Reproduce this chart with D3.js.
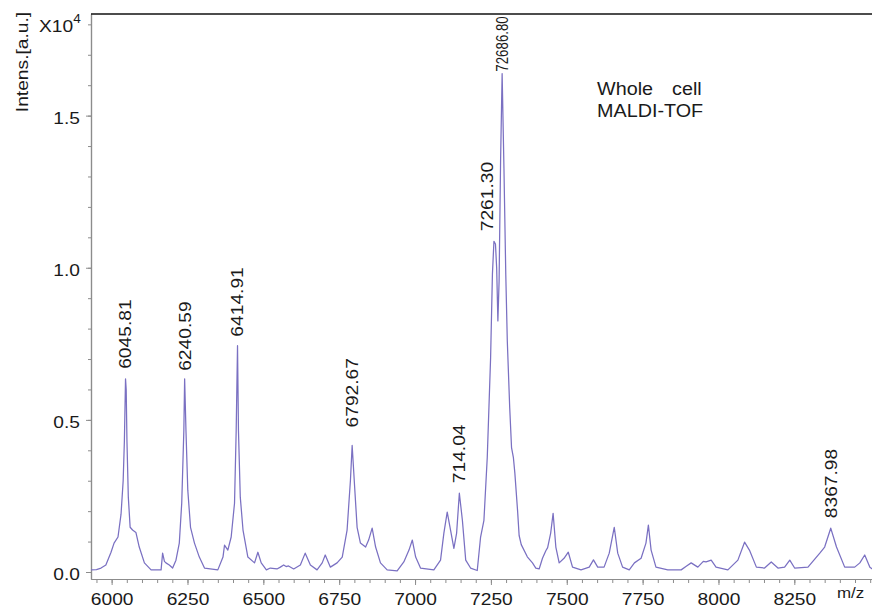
<!DOCTYPE html>
<html>
<head>
<meta charset="utf-8">
<script src="https://cdn.jsdelivr.net/npm/d3@7"></script>
<style>
  body { margin: 0; background: #fff; }
  text { font-family: "Liberation Sans", Arial, sans-serif; fill: #1a1a1a; }
</style>
</head>
<body>
<svg id="chart" width="872" height="611"></svg>
<script>
// spectrum: m/z and intensity (x10^4)
const mz = [
  5932, 5950, 5965, 5981, 5998, 6008, 6021, 6031, 6038, 6042, 6045.8, 6048, 6050.5, 6055, 6061, 6069, 6080, 6091, 6108, 6130,
  6163, 6168, 6174, 6179, 6190, 6201, 6212, 6223, 6231, 6238, 6240.6, 6245, 6251, 6260, 6273, 6289, 6306, 6350,
  6367, 6372, 6383, 6394, 6405, 6410.5, 6414.9, 6418, 6424, 6433, 6449, 6471, 6482, 6493, 6510, 6523, 6545, 6556, 6567, 6575,
  6583, 6600, 6622, 6638, 6655, 6677, 6694, 6704, 6721, 6743, 6760, 6776, 6787, 6792.7, 6801, 6809, 6820, 6837, 6847, 6858.6,
  6870, 6886, 6908, 6941, 6963, 6980, 6991, 7002, 7018, 7062, 7084, 7095, 7106, 7117, 7128, 7137, 7146, 7156, 7167, 7183,
  7205, 7216, 7227, 7238, 7249, 7255, 7260, 7265, 7269, 7273, 7277, 7282, 7287, 7293, 7299, 7304, 7312, 7318, 7324, 7329,
  7338, 7343, 7350, 7370, 7387, 7398, 7409, 7420, 7431, 7437, 7447, 7455, 7464, 7475, 7491, 7505, 7519, 7547, 7574, 7588,
  7602, 7623, 7640, 7656.5, 7668, 7684, 7706, 7723, 7745, 7761, 7769, 7778, 7794, 7833, 7877, 7895, 7910, 7932, 7950, 7959,
  7976, 7992, 8031, 8064, 8086, 8102, 8125, 8152, 8174, 8196, 8218, 8235, 8251, 8295, 8334, 8350, 8370, 8389, 8416, 8449,
  8466, 8482, 8499, 8511
];
const intensity = [
  0.007, 0.008, 0.013, 0.023, 0.065, 0.095, 0.115, 0.19, 0.30, 0.43, 0.635, 0.60, 0.43, 0.246, 0.147, 0.138, 0.13, 0.082, 0.03, 0.007,
  0.007, 0.062, 0.035, 0.03, 0.023, 0.013, 0.039, 0.095, 0.226, 0.465, 0.635, 0.465, 0.269, 0.147, 0.095, 0.049, 0.013, 0.007,
  0.049, 0.088, 0.072, 0.115, 0.226, 0.465, 0.744, 0.465, 0.246, 0.138, 0.049, 0.03, 0.065, 0.03, 0.007, 0.013, 0.01, 0.016, 0.023, 0.018,
  0.02, 0.01, 0.023, 0.062, 0.023, 0.007, 0.03, 0.056, 0.016, 0.03, 0.049, 0.138, 0.301, 0.416, 0.278, 0.147, 0.095, 0.082, 0.105, 0.144,
  0.082, 0.03, 0.007, 0.004, 0.033, 0.072, 0.105, 0.049, 0.013, 0.007, 0.039, 0.128, 0.197, 0.138, 0.078, 0.128, 0.259, 0.17, 0.039, 0.013,
  0.005, 0.115, 0.17, 0.377, 0.704, 0.979, 1.087, 1.078, 0.999, 0.825, 0.956, 1.359, 1.638, 1.327, 0.979, 0.76, 0.54, 0.409, 0.377, 0.324,
  0.2, 0.12, 0.09, 0.05, 0.03, 0.013, 0.01, 0.045, 0.07, 0.08, 0.128, 0.193, 0.082, 0.03, 0.045, 0.065, 0.016, 0.007, 0.016, 0.04,
  0.016, 0.016, 0.062, 0.147, 0.062, 0.016, 0.007, 0.03, 0.045, 0.095, 0.154, 0.072, 0.016, 0.007, 0.007, 0.02, 0.03, 0.016, 0.035, 0.033,
  0.039, 0.016, 0.007, 0.039, 0.098, 0.072, 0.016, 0.013, 0.033, 0.013, 0.016, 0.039, 0.013, 0.016, 0.062, 0.082, 0.144, 0.082, 0.016, 0.016,
  0.03, 0.056, 0.016, 0.007
];

// labelled peaks
const peakMz = [6045.8, 6240.6, 6414.9, 6792.7, 7146, 7260, 7287, 8370];
const peakText = ["6045.81", "6240.59", "6414.91", "6792.67", "714.04", "7261.30", "72686.80", "8367.98"];

const xMajor = d3.range(6000, 8251, 250);
const xMinor = d3.range(5950, 8501, 50);
const yMajor = [0, 0.5, 1.0, 1.5];
const yMinor = d3.range(0, 1.81, 0.1);

const svg = d3.select("#chart");
const stretch = "scale(1.13,1)";   // the original type is a little wide

const x = d3.scaleLinear().domain([5932, 8506]).range([91, 872]);
const y = d3.scaleLinear().domain([-0.023, 1.834]).range([579, 14]);

// axes
function styleAxis(g) {
  g.selectAll("path.domain").attr("stroke", "#8c8c8c").attr("stroke-width", 1.2);
  g.selectAll(".tick line").attr("stroke", "#8c8c8c").attr("stroke-width", 1);
}

svg.append("g")
  .attr("transform", "translate(0,579)")
  .call(d3.axisBottom(x).tickValues(xMinor).tickSize(4).tickSizeOuter(0).tickFormat(""))
  .call(styleAxis);

const xAxis = svg.append("g")
  .attr("transform", "translate(0,579)")
  .call(d3.axisBottom(x).tickValues(xMajor).tickSize(6).tickSizeOuter(0).tickFormat(d3.format("d")))
  .call(styleAxis);
xAxis.selectAll("text")
  .attr("y", 26).attr("dy", 0)
  .attr("transform", stretch)
  .style("font-size", "17px")
  .style("font-family", '"Liberation Sans", Arial, sans-serif')
  .attr("fill", "#1a1a1a");

svg.append("g")
  .attr("transform", "translate(91,0)")
  .call(d3.axisLeft(y).tickValues(yMinor).tickSize(3).tickSizeOuter(0).tickFormat(""))
  .call(styleAxis);

const yAxis = svg.append("g")
  .attr("transform", "translate(91,0)")
  .call(d3.axisLeft(y).tickValues(yMajor).tickSize(5).tickSizeOuter(0).tickFormat(d3.format(".1f")))
  .call(styleAxis);
yAxis.selectAll("text")
  .attr("x", -11 / 1.13).attr("dy", "0.45em")
  .attr("transform", stretch)
  .style("font-size", "17px")
  .style("font-family", '"Liberation Sans", Arial, sans-serif')
  .attr("fill", "#1a1a1a");

// top frame line
svg.append("line")
  .attr("x1", x.range()[0]).attr("x2", x.range()[1])
  .attr("y1", y.range()[1]).attr("y2", y.range()[1])
  .attr("stroke", "#111").attr("stroke-width", 1.3);

// spectrum
const points = mz.map((m, i) => [m, intensity[i]]);
svg.append("path")
  .datum(points)
  .attr("fill", "none")
  .attr("stroke", "#7a70c2")
  .attr("stroke-width", 1.25)
  .attr("stroke-linejoin", "round")
  .attr("d", d3.line().x(d => x(d[0])).y(d => y(d[1])));

// peak labels, rotated, sitting just above each peak
const nudge = [[0, -10], [0, -8], [0, -9], [0, -18], [0, -10], [-6.5, -10], [0, -2], [0, -10]];
peakMz.forEach((m, i) => {
  const idx = d3.minIndex(mz, v => Math.abs(v - m));
  const px = x(m) + nudge[i][0];
  const py = y(intensity[idx]) + nudge[i][1];
  const small = i === 6;
  svg.append("text")
    .attr("transform", `translate(${px},${py}) rotate(-90) ${small ? "scale(0.83,1)" : stretch}`)
    .attr("dy", "0.35em")
    .style("font-size", small ? "16px" : "17px")
    .text(peakText[i]);
});

// axis titles
svg.append("text")
  .attr("transform", `translate(28,62) rotate(-90) ${stretch}`)
  .attr("text-anchor", "middle")
  .style("font-size", "17px")
  .text("Intens.[a.u.]");

const mult = svg.append("text")
  .attr("transform", `translate(39,32) ${stretch}`)
  .style("font-size", "17px");
mult.append("tspan").text("X10");
mult.append("tspan").attr("dy", -9).style("font-size", "12px").text("4");

svg.append("text")
  .attr("transform", `translate(837,598) ${stretch}`)
  .style("font-size", "15px")
  .text("m/z");

// annotation
svg.append("text")
  .attr("transform", `translate(597,95) ${stretch}`)
  .style("font-size", "17.5px")
  .style("word-spacing", "12px")
  .text("Whole cell");
svg.append("text")
  .attr("transform", `translate(597,117) ${stretch}`)
  .style("font-size", "17.5px")
  .text("MALDI-TOF");
</script>
</body>
</html>
